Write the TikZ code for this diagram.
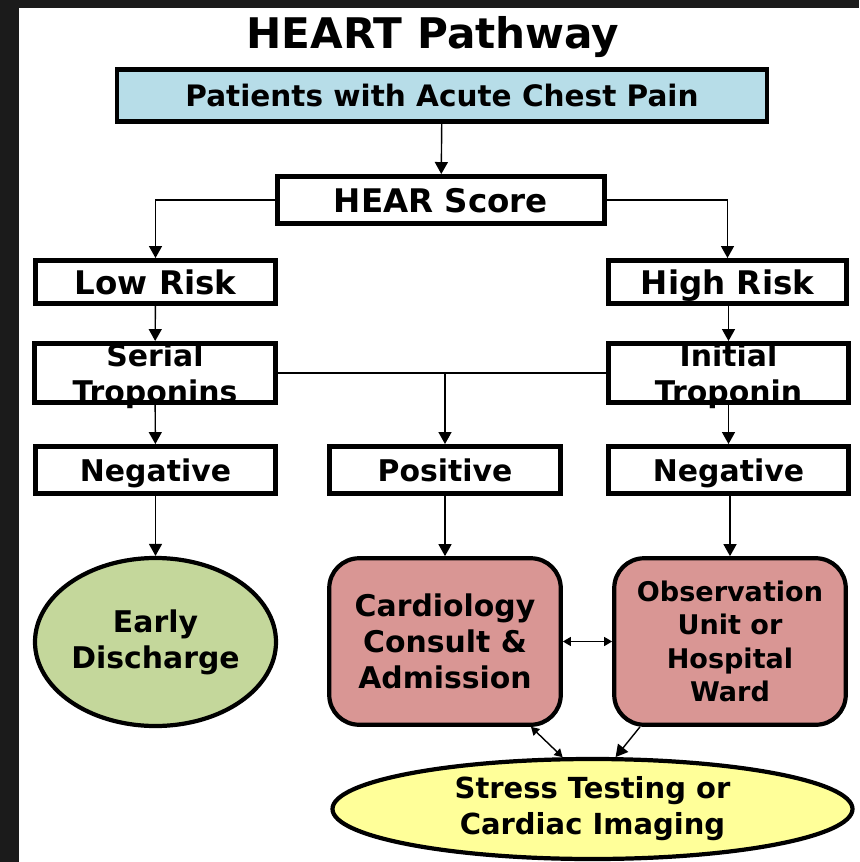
\documentclass[tikz,border=0pt]{standalone}
\usepackage{fontspec}
\setmainfont{DejaVu Sans}
\usepackage{xcolor}
\usetikzlibrary{shapes,arrows.meta,calc,positioning}

\definecolor{painblue}{HTML}{B7DDE8}
\definecolor{dischargegreen}{HTML}{C4D79B}
\definecolor{admitred}{HTML}{D99694}
\definecolor{imagingyellow}{HTML}{FFFF99}
\definecolor{framedark}{HTML}{1B1B1B}

\begin{document}
\begin{tikzpicture}[
  stagebox/.style={rectangle, draw, line width=2.8pt, fill=white, minimum width=4.8cm, minimum height=0.94cm, inner sep=0pt, text height=13pt, text depth=0pt, align=center, font=\fontsize{17}{19}\selectfont\bfseries},
  bigtext/.style={text height=14pt, font=\fontsize{18.5}{21}\selectfont\bfseries},
  twoline/.style={minimum height=1.18cm, text height=33.4pt, font=\fontsize{17}{20.5}\selectfont\bfseries},
  outcome/.style={rectangle, draw, rounded corners=17pt, line width=2.4pt, fill=admitred, minimum width=4.63cm, minimum height=3.33cm, inner sep=0pt, align=center, font=\fontsize{17}{20.5}\selectfont\bfseries},
  endpoint/.style={ellipse, draw, line width=2.4pt, inner sep=0pt, align=center, font=\fontsize{17}{20.5}\selectfont\bfseries},
  arrow/.style={-{Triangle[length=2.4mm,width=2.6mm]}, thick},
  twoway/.style={{Triangle[length=1.6mm,width=1.8mm]}-{Triangle[length=1.6mm,width=1.8mm]}, thick}
]

% frame
\useasboundingbox (0,0) rectangle (17.18,-17.24);
\fill[framedark] (0,0) rectangle (17.18,-17.24);
\fill[white] (0.38,-0.16) rectangle (17.18,-17.24);

\node[font=\fontsize{24}{28}\selectfont\bfseries] (title) at (8.66,-0.75) {HEART Pathway};

\node[stagebox, fill=painblue, minimum width=13.0cm, minimum height=1.04cm, font=\fontsize{16.8}{19}\selectfont\bfseries] (patients) at (8.84,-1.91) {Patients with Acute Chest Pain};
\node[stagebox, bigtext, minimum width=6.54cm] (hear) at (8.82,-4.0) {HEAR Score};

% risk branches
\node[stagebox, bigtext, minimum height=0.86cm] (lowrisk) at (3.11,-5.64) {Low Risk};
\node[stagebox, bigtext, minimum width=4.76cm, minimum height=0.86cm] (highrisk) at (14.55,-5.64) {High Risk};
\node[stagebox, twoline, minimum width=4.82cm] (serial) at (3.1,-7.46) {Serial\\Troponins};
\node[stagebox, twoline] (initial) at (14.57,-7.46) {Initial\\Troponin};

% troponin results
\node[stagebox] (neglow) at (3.11,-9.4) {Negative};
\node[stagebox, minimum width=4.62cm] (positive) at (8.9,-9.4) {Positive};
\node[stagebox] (neghigh) at (14.57,-9.4) {Negative};

% dispositions
\node[endpoint, fill=dischargegreen, minimum width=4.82cm, minimum height=3.36cm] (early) at (3.11,-12.84) {Early\\Discharge};
\node[outcome] (cardio) at (8.9,-12.83) {Cardiology\\Consult \&\\Admission};
\node[outcome, font=\fontsize{15.4}{19}\selectfont\bfseries] (obs) at (14.6,-12.83) {Observation\\Unit or\\Hospital\\Ward};
\node[endpoint, fill=imagingyellow, minimum width=10.4cm, minimum height=2.0cm, font=\fontsize{16.5}{20.5}\selectfont\bfseries] (stress) at (11.85,-16.18) {Stress Testing or\\Cardiac Imaging};

\coordinate (split) at (positive.north |- serial.east);

\draw[arrow] (patients) -- (hear);
\draw[arrow] (hear.west) -| (lowrisk.north);
\draw[arrow] (hear.east) -| (highrisk.north);
\draw[arrow] (lowrisk) -- (serial);
\draw[arrow] (highrisk.south -| initial.north) -- (initial);
\draw[thick] (serial.east) -- (initial.west);
\draw[arrow] (split) -- (positive);
\draw[arrow] (serial) -- (neglow);
\draw[arrow] (initial) -- (neghigh);
\draw[arrow] (neglow) -- (early);
\draw[arrow] (positive) -- (cardio);
\draw[arrow] (neghigh.south -| obs.north) -- (obs);
\draw[twoway] (cardio) -- (obs);
\draw[twoway] ($(cardio.south)+(1.72,0)$) -- (stress.120);
\draw[arrow] ($(obs.south)+(-1.8,0)$) -- (stress.66);

\end{tikzpicture}
\end{document}
